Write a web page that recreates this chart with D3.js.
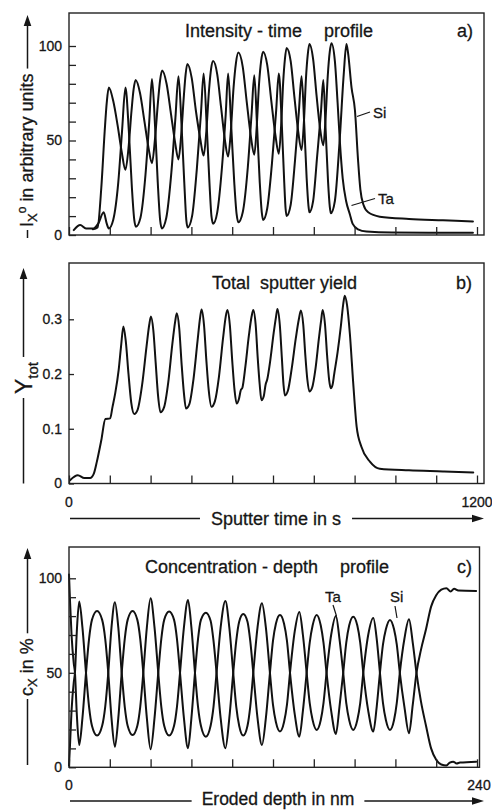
<!DOCTYPE html>
<html><head><meta charset="utf-8">
<script src="https://cdn.jsdelivr.net/npm/d3@7"></script>
<style>
html,body{margin:0;padding:0;background:#fff;}
svg{display:block;}
text{font-family:"Liberation Sans",Arial,Helvetica,sans-serif;fill:#161616;stroke:#161616;stroke-width:0.3px;white-space:pre;}
</style></head><body>
<svg id="chart" width="492" height="810"></svg>
<script>
// ---------- DATA ----------
// a) Intensity - time profile  [time s, intensity a.u.]
const siIntensity = [
[14,2.6],[33,5.3],[50,3.5],[72,3.5],[86,6],[102,12],[111,6],[117,3.5],
[130,8],[145,28],[156,55],[166,78],
[176,55],[185,25],[192,8],[197,4.4],
[210,9],[225,32],[236,60],[244,82.5],
[253,58],[261,28],[268,8],[273,3.5],
[286,9],[301,33],[313,62],[322,84],
[331,58],[339,28],[345,8],[349,4],
[362,10],[376,35],[388,64],[396,85.5],
[405,58],[413,28],[419,10],[424,6],
[436,12],[450,36],[461,64],[468,85.5],
[477,58],[486,28],[493,11],[498,6.7],
[511,12],[526,36],[537,64],[545,84.5],
[553,58],[561,28],[567,12],[571,8],
[583,14],[597,38],[609,65],[617,85.5],
[626,58],[633,28],[637,14],[640,10],
[652,16],[665,40],[676,65],[684,84],
[692,58],[699,30],[704,16],[707,12],
[718,18],[730,42],[741,65],[748,82],
[755,55],[762,28],[767,15],[770,11.5],
[782,18],[796,50],[808,85],[816,101],
[821,96],[831,78],[841,66],[850,40],[857,24],[866,16],[880,12],[914,9.7],[1000,8.5],[1100,7.8],[1188,7.2]
];
const taIntensity = [
[70,3],[84,4],[95,25],[105,55],[111,70],[117,78],
[130,71],[143,58],[155,44],[166,34.5],
[175,46],[184,66],[190,77],[196,82],
[209,75],[222,60],[234,46],[244,38],
[253,51],[262,71],[268,82],[274,87],
[287,80],[300,64],[312,49],[322,40],
[330,53],[338,74],[343,85],[348,90.5],
[361,83],[373,66],[386,51],[396,42],
[404,55],[412,77],[418,88],[424,92],
[436,85],[447,68],[458,51],[468,41.5],
[476,55],[484,78],[491,91],[498,96.5],
[511,89],[523,70],[535,52],[545,42.5],
[552,57],[559,80],[565,92],[571,97],
[583,90],[595,71],[607,53],[617,43],
[624,58],[630,81],[635,93],[640,99],
[652,92],[663,73],[674,55],[684,45],
[691,60],[697,83],[702,95],[707,101],
[718,93],[728,74],[738,57],[748,47.5],
[755,63],[761,84],[767,97],[772,101.5],
[782,92],[790,70],[797,48.5],[805,30],[815,18],[826,11],[834,6],[850,3],[875,1.8],[950,1.3],[1188,1.2]
];
// b) Total sputter yield  [time s, Y_tot]
const totalYield = [
[3,0.006],[26,0.015],[45,0.010],[62,0.010],[73,0.018],[82,0.040],[95,0.079],[107,0.118],[121,0.119],[128,0.140],[136,0.165],[146,0.207],[153,0.25],[160,0.287],
[167,0.26],[175,0.2],[183,0.148],[192,0.127],
[202,0.135],[215,0.18],[228,0.25],[236,0.29],[241,0.305],
[248,0.28],[255,0.22],[262,0.16],[269,0.130],
[280,0.14],[292,0.185],[304,0.255],[312,0.295],[317,0.311],
[324,0.285],[331,0.22],[338,0.165],[344,0.137],
[354,0.145],[366,0.19],[378,0.26],[386,0.305],[390,0.318],
[397,0.29],[404,0.225],[411,0.17],[419,0.140],
[429,0.15],[441,0.195],[453,0.265],[461,0.305],[466,0.317],
[473,0.29],[480,0.225],[487,0.17],[493,0.146],
[500,0.155],[505,0.17],[510,0.175],[519,0.215],[529,0.27],[537,0.305],[542,0.317],
[549,0.29],[555,0.23],[561,0.18],[566,0.152],
[573,0.16],[578,0.18],[583,0.19],[592,0.225],[602,0.275],[609,0.305],[613,0.319],
[620,0.29],[626,0.23],[631,0.18],[635,0.161],
[644,0.17],[655,0.21],[667,0.265],[676,0.3],[682,0.316],
[689,0.29],[695,0.235],[701,0.19],[707,0.168],
[715,0.175],[725,0.21],[735,0.265],[742,0.3],[746,0.317],
[753,0.29],[759,0.235],[765,0.19],[770,0.174],
[775,0.18],[780,0.2],[790,0.24],[800,0.29],[806,0.325],[811,0.343],
[818,0.325],[826,0.274],[836,0.183],[846,0.104],[860,0.067],[885,0.040],[914,0.027],[1000,0.024],[1100,0.022],[1189,0.020]
];
// c) Concentration - depth profile  [depth nm, c in %]
const taConc = [
[0,1],[0.6,12],[1.5,30],[2.8,45],[3.5,50],[4.6,72],[6,87.7],
[7.9,74],[10,50],
[11.8,32],[13.5,22],[16.5,16.8],[19.5,22],[21.3,32],[23.1,50],
[25,74],[27,87.3],[29,74],[31,50],
[32.8,32],[34.5,22],[37.4,17.1],[40.2,22],[41.9,32],[43.7,50],
[45.8,74],[48,89.4],[50.3,74],[52.5,50],
[54.3,32],[56,22],[58.9,16.8],[61.8,22],[63.5,32],[65.3,50],
[67.6,74],[70,88.5],[72,74],[74.1,50],
[75.9,32],[77.6,22],[80.5,16.2],[83.3,22],[85,32],[86.8,50],
[89.2,74],[92,88],[94.3,74],[96.6,50],
[98.4,32],[100.1,22],[102.5,16.8],[105,22],[106.6,32],[108.4,50],
[110.9,74],[113.5,86.8],[115.8,74],[118.2,50],
[120,33],[121.7,24],[124.1,19],[126.5,24],[128.2,33],[130,50],
[132.8,72],[135.5,82.2],[137.6,70],[139.8,50],
[141.6,34],[143.3,25],[145.7,19.8],[148.1,25],[149.7,34],[151.5,50],
[154.2,70],[157,80.1],[159.1,68],[161.3,50],
[163.1,34],[164.8,25],[167.2,19.8],[169.6,25],[171.3,34],[173.1,50],
[176,70],[179,79],[181,68],[182.9,50],
[184.7,34],[186.4,25],[188.8,19.8],[191.2,25],[192.8,34],[194.6,50],
[197.3,68],[200,78.3],[202.2,66],[204.4,50],
[207,35],[210,22],[213,10],[216,4],[219,1.5],[222,1],[224,2.5],[226,3],[228,2],[230,2.5],[239.5,3]
];
const siConc = [
[0,102],[0.6,88],[1.5,70],[2.8,55],[3.5,50],[4.6,28],[6,11.8],
[7.9,26],[10,50],
[11.8,68],[13.5,78],[16.5,82.7],[19.5,78],[21.3,68],[23.1,50],
[25,26],[27,10.9],[29,26],[31,50],
[32.8,68],[34.5,78],[37.4,82.7],[40.2,78],[41.9,68],[43.7,50],
[45.8,26],[48,9.5],[50.3,26],[52.5,50],
[54.3,68],[56,78],[58.9,82.4],[61.8,78],[63.5,68],[65.3,50],
[67.6,26],[70,10.1],[72,26],[74.1,50],
[75.9,68],[77.6,78],[80.5,81.8],[83.3,77.5],[85,67],[86.8,50],
[89.2,26],[92,10.1],[94.3,26],[96.6,50],
[98.4,67],[100.1,77],[102.5,81.1],[105,77],[106.6,67],[108.4,50],
[110.9,26],[113.5,11.8],[115.8,26],[118.2,50],
[120,67],[121.7,76],[124.1,80.6],[126.5,76],[128.2,67],[130,50],
[132.8,28],[135.5,16.2],[137.6,30],[139.8,50],
[141.6,66],[143.3,75],[145.7,80.6],[148.1,75],[149.7,66],[151.5,50],
[154.2,30],[157,17.6],[159.1,32],[161.3,50],
[163.1,66],[164.8,75],[167.2,79.7],[169.6,75],[171.3,66],[173.1,50],
[176,30],[179,18.9],[181,32],[182.9,50],
[184.7,65],[186.4,73],[188.8,78],[191.2,73],[192.8,65],[194.6,50],
[197.3,32],[200,18],[202.2,33],[204.4,50],
[207,62],[210,73],[213,85],[216,91],[219,94],[222,94.8],[224.5,93],[226.5,94.5],[229,93.5],[239.5,93.3]
];
// ticks
const timeTicks = [0,120,240,360,480,600,720,840,960,1080,1200];
const depthTicks = [0,24,48,72,96,120,144,168,192,216,240];
const pctTicks = [0,10,20,30,40,50,60,70,80,90,100];
const pctLabels = [0,50,100];
const yieldTicks = [0,0.1,0.2,0.3];
const yieldLabels = ["0","0.1","0.2","0.3"];

// ---------- LAYOUT ----------
const svg = d3.select("#chart");
const INK = "#161616";
const PA = {x0:69, x1:484, y0:13, y1:235};
const PB = {x0:69, x1:484, y0:263, y1:483.5};
const PC = {x0:69, x1:479.5, y0:547, y1:767.3};

const xTime = d3.scaleLinear().domain([0,1200]).range([69,477]);
const xDepth = d3.scaleLinear().domain([0,240]).range([69,477]);
const yA = d3.scaleLinear().domain([0,100]).range([235,46]);
const yB = d3.scaleLinear().domain([0,0.3]).range([483.5,319.3]);
const yC = d3.scaleLinear().domain([0,100]).range([767.3,578.3]);

function frame(p){
  svg.append("rect").attr("x",p.x0).attr("y",p.y0).attr("width",p.x1-p.x0).attr("height",p.y1-p.y0)
    .attr("fill","none").attr("stroke","#222").attr("stroke-width",1.4);
}
function styleAxis(g){
  g.select(".domain").remove();
  g.selectAll(".tick line").attr("stroke","#222").attr("stroke-width",1.3);
  g.selectAll(".tick text").style("font-size","14px").attr("fill",INK);
}
function xAxis(p, scale, ticks){
  const g = svg.append("g").attr("transform",`translate(0,${p.y1})`)
    .call(d3.axisBottom(scale).tickValues(ticks).tickSize(-8).tickFormat(""));
  styleAxis(g);
}
function yAxis(p, scale, ticks, fmt, size){
  const g = svg.append("g").attr("transform",`translate(${p.x0},0)`)
    .call(d3.axisLeft(scale).tickValues(ticks).tickSize(-size).tickPadding(7).tickFormat(fmt));
  styleAxis(g);
}
function curve(data, xs, ys){
  const line = d3.line().x(d=>xs(d[0])).y(d=>ys(d[1])).curve(d3.curveMonotoneX);
  svg.append("path").attr("d",line(data)).attr("fill","none").attr("stroke","#111")
    .attr("stroke-width",2).attr("stroke-linejoin","round").attr("stroke-linecap","round");
}
function txt(x,y,s,size,anchor){
  return svg.append("text").attr("x",x).attr("y",y).attr("text-anchor",anchor||"start")
    .style("font-size",(size||18)+"px").text(s);
}
function seg(x1,y1,x2,y2,w){
  svg.append("line").attr("x1",x1).attr("y1",y1).attr("x2",x2).attr("y2",y2)
    .attr("stroke",INK).attr("stroke-width",w||1.3);
}
function arrowUp(x, yFrom, yTip){
  seg(x,yFrom,x,yTip+6,1.5);
  svg.append("path").attr("d",`M${x-3.8},${yTip+11} L${x},${yTip} L${x+3.8},${yTip+11} Z`).attr("fill",INK);
}
function arrowRight(y, xFrom, xTip){
  seg(xFrom,y,xTip-6,y,1.5);
  svg.append("path").attr("d",`M${xTip-12},${y-3.8} L${xTip},${y} L${xTip-12},${y+3.8} Z`).attr("fill",INK);
}

// ---------- PANEL A ----------
curve(taIntensity, xTime, yA);
curve(siIntensity, xTime, yA);
frame(PA);
xAxis(PA, xTime, timeTicks);
yAxis(PA, yA, pctTicks, d=>pctLabels.includes(d)?String(d):"", 7);
txt(185,37,"Intensity - time");
txt(324,37,"profile");
txt(457,37,"a)");
txt(373,118,"Si",15); seg(357,116.5,370,112,1.2);
txt(378,204,"Ta",15); seg(351.5,205.5,375,198.5,1.2);
{
  seg(27.5,238,27.5,230,1.5);
  const t = svg.append("text").attr("transform","translate(33,227) rotate(-90)").style("font-size","18px");
  t.append("tspan").text("I");
  t.append("tspan").attr("dy","4").style("font-size","13px").text("X");
  t.append("tspan").attr("dy","-11").style("font-size","12px").text("o");
  t.append("tspan").attr("dy","7").text(" in arbitrary units");
  const L = t.node().getComputedTextLength();
  arrowUp(27.5, 227-L-5, 15);
}

// ---------- PANEL B ----------
curve(totalYield, xTime, yB);
frame(PB);
xAxis(PB, xTime, timeTicks);
yAxis(PB, yB, yieldTicks, (d,i)=>yieldLabels[i], 5);
txt(212,289,"Total");
txt(260,289,"sputter yield");
txt(456,289,"b)");
txt(xTime(0),507,"0",14,"middle");
txt(xTime(1200),507,"1200",14,"middle");
{
  const t = txt(276,525,"Sputter time in s",18,"middle");
  const w = t.node().getComputedTextLength();
  seg(70,518.5,276-w/2-11,518.5,1.5);
  arrowRight(518.5, 276+w/2+11, 484);
}
{
  seg(23.5,483.5,23.5,398,1.5);
  const t = svg.append("text").attr("transform","translate(32,394) rotate(-90)").style("font-size","23px");
  t.append("tspan").text("Y");
  t.append("tspan").attr("dy","6").style("font-size","15px").text("tot");
  const L = t.node().getComputedTextLength();
  arrowUp(23.5, 394-L-5, 268);
}

// ---------- PANEL C ----------
curve(taConc, xDepth, yC);
curve(siConc, xDepth, yC);
frame(PC);
xAxis(PC, xDepth, depthTicks);
yAxis(PC, yC, pctTicks, d=>pctLabels.includes(d)?String(d):"", 7);
txt(145,573,"Concentration - depth");
txt(340,573,"profile");
txt(457,573,"c)");
txt(325,602,"Ta",15); seg(333,605,336.5,616,1.2);
txt(390,602,"Si",15); seg(395,606,397,618,1.2);
txt(xDepth(0),790,"0",14,"middle");
txt(xDepth(240)+2,790,"240",14,"middle");
{
  const t = txt(278,805,"Eroded depth in nm",17.5,"middle");
  const w = t.node().getComputedTextLength();
  seg(70,801,278-w/2-10,801,1.5);
  arrowRight(801, 278+w/2+10, 484);
}
{
  seg(27.5,765,27.5,699,1.5);
  const t = svg.append("text").attr("transform","translate(33,696) rotate(-90)").style("font-size","18px");
  t.append("tspan").text("c");
  t.append("tspan").attr("dy","4").style("font-size","13px").text("X");
  t.append("tspan").attr("dy","-4").text(" in %");
  const L = t.node().getComputedTextLength();
  arrowUp(27.5, 696-L-5, 548);
}
</script>
</body></html>
